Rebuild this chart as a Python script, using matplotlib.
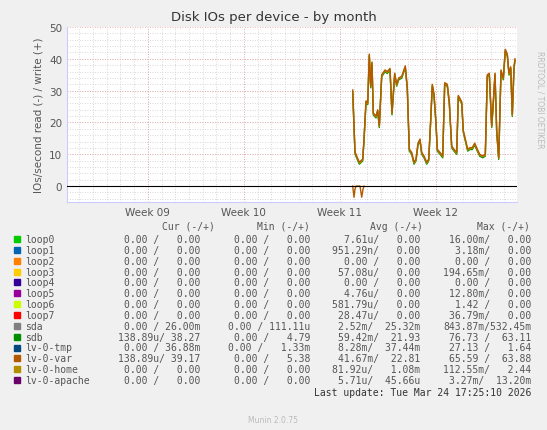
import matplotlib
matplotlib.use("Agg")
import matplotlib.pyplot as plt
import numpy as np

# x in pixels of the original chart converted to days; week ticks
week_labels = ["Week 09", "Week 10", "Week 11", "Week 12"]
week_pos = [5.9, 12.9, 19.9, 26.9]

px = [352.7, 355, 359.3, 362.7, 364, 366, 367.7, 369.3, 370.7, 372, 373.3, 376, 377.7, 379.3, 381.7,
      385, 387.3, 390, 392, 394.7, 396.7, 398.7, 401.7, 405.3, 407.3, 409.3, 411.7, 414, 416, 418,
      420, 421.7, 424, 426.7, 428.7, 430.7, 432.3, 434, 436, 437.3, 440, 442.7, 444.7, 447.3, 449.3,
      451.7, 454, 456.7, 458.3, 461.7, 463.3, 467.7, 470, 472.3, 474.7, 477.3, 479.7, 482.7, 485.3,
      487.3, 489.3, 491.7, 493.3, 495, 496.7, 498.7, 501, 503.3, 505.3, 507.3, 509, 510.7, 512.3, 514, 515]
write_var = [30.2, 10.7, 7.5, 8.5, 14.8, 26.8, 26.2, 41.5, 31.5, 39, 23, 22, 24, 19, 35,
             36.5, 36, 37, 23, 35.5, 32, 34, 34.5, 37.8, 31, 11.6, 10.6, 7.5, 8.5, 13.5,
             14.8, 10.6, 9.5, 7.5, 8.5, 21, 32, 29, 20, 11.6, 10.6, 9.5, 32.5, 32, 26.5,
             12.6, 11.6, 10.6, 28.5, 26.5, 17.5, 11.6, 12.1, 12.1, 13.5, 11.6, 10, 9.5, 10,
             35, 35.5, 19, 26.5, 35.5, 17.5, 9, 36.5, 34, 43, 41.5, 35.5, 37.5, 22.5, 37.5, 40]
# read side: only the short dips below zero
read_px = [352.7, 354, 355, 356, 360, 361.7, 363, 364]
read_var = [0, -3.5, -1, 0, 0, -3.5, -1, 0]

days = [(p - 67) / (96 / 7) for p in px]
read_days = [(p - 67) / (96 / 7) for p in read_px]
write_sdb = [v - 0.6 for v in write_var]
write_home = [v - 0.3 for v in write_var]

names = ["loop0", "loop1", "loop2", "loop3", "loop4", "loop5", "loop6", "loop7",
         "sda", "sdb", "lv-0-tmp", "lv-0-var", "lv-0-home", "lv-0-apache"]
colors = ["#00cc00", "#0066b3", "#ff8000", "#ffcc00", "#330099", "#990099", "#ccff00",
          "#ff0000", "#808080", "#008f00", "#00487d", "#b35a00", "#b38f00", "#6b006b"]
cur = ["0.00 /   0.00"] * 8 + ["0.00 / 26.00m", "138.89u/ 38.27", "0.00 / 36.88m",
                                 "138.89u/ 39.17", "0.00 /   0.00", "0.00 /   0.00"]
mins = ["0.00 /   0.00"] * 8 + ["0.00 / 111.11u", "0.00 /   4.79", "0.00 /   1.33m",
                                 "0.00 /   5.38", "0.00 /   0.00", "0.00 /   0.00"]
avgs = ["7.61u/   0.00", "951.29n/   0.00", "0.00 /   0.00", "57.08u/   0.00",
        "0.00 /   0.00", "4.76u/   0.00", "581.79u/   0.00", "28.47u/   0.00",
        "2.52m/  25.32m", "59.42m/  21.93", "8.28m/  37.44m", "41.67m/  22.81",
        "81.92u/   1.08m", "5.71u/  45.66u"]
maxs = ["16.00m/   0.00", "3.18m/   0.00", "0.00 /   0.00", "194.65m/   0.00",
        "0.00 /   0.00", "12.80m/   0.00", "1.42 /   0.00", "36.79m/   0.00",
        "843.87m/532.45m", "76.73 /  63.11", "27.13 /   1.64", "65.59 /  63.88",
        "112.55m/   2.44", "3.27m/  13.20m"]

W, H = 547, 431
fig = plt.figure(figsize=(W / 100, H / 100), dpi=100, facecolor="#f0f0f0")
ax = fig.add_axes([67 / W, 1 - 203 / H, 450 / W, 175 / H])
ax.set_facecolor("white")
ax.set_xlim(0, 450 / (96 / 7))
ax.set_ylim(-5, 50)

for d in np.arange(week_pos[0] - 7, 33, 1):
    ax.axvline(d, color="#cccccc", lw=0.6, ls=(0, (1, 2)), zorder=0)
for y in np.arange(-4, 50, 2):
    ax.axhline(y, color="#cccccc", lw=0.6, ls=(0, (1, 2)), zorder=0)
for d in week_pos:
    ax.axvline(d, color="#e8a0a0", lw=0.6, ls=(0, (1, 2)), zorder=0)
for y in range(0, 51, 10):
    ax.axhline(y, color="#e8a0a0", lw=0.6, ls=(0, (1, 2)), zorder=0)

ax.plot(read_days, read_var, color=colors[11], lw=1)
ax.axhline(0, color="black", lw=0.8, zorder=3)
ax.plot(days, write_sdb, color=colors[9], lw=1)
ax.plot(days, write_home, color=colors[12], lw=1)
ax.plot(days, write_var, color=colors[11], lw=1)

ax.set_xticks(week_pos)
ax.set_xticklabels(week_labels)
ax.set_yticks(range(0, 51, 10))
ax.tick_params(labelsize=7.5, colors="#555555", length=0)
for s in ax.spines.values():
    s.set_visible(False)
ax.spines["bottom"].set_visible(True)
ax.spines["bottom"].set_color("#ccccff")
ax.spines["left"].set_visible(True)
ax.spines["left"].set_color("#ccccff")
ax.set_ylabel("IOs/second read (-) / write (+)", fontsize=7.5, color="#555555")

fig.text(0.5, 1 - 18 / H, "Disk IOs per device - by month", ha="center", va="center",
         fontsize=9.5, color="#333333")
fig.text(540 / W, 1 - 100 / H, "RRDTOOL / TOBI OETIKER", rotation=270, ha="center",
         va="center", fontsize=5.5, color="#bbbbbb")

mono = dict(family="DejaVu Sans Mono", fontsize=7, color="#555555", va="center")
hy = 227
for x, t in [(188, "Cur (-/+)"), (283, "Min (-/+)"), (396, "Avg (-/+)"), (503, "Max (-/+)")]:
    fig.text(x / W, 1 - hy / H, t, ha="center", **mono)
for i, n in enumerate(names):
    y = 1 - (240 + i * 10.85) / H
    fig.patches.append(plt.Rectangle((14 / W, y - 3 / H), 6 / W, 6 / H, color=colors[i],
                                     transform=fig.transFigure, figure=fig))
    fig.text(25 / W, y, n, ha="left", **mono)
    fig.text(200 / W, y, cur[i], ha="right", **mono)
    fig.text(310 / W, y, mins[i], ha="right", **mono)
    fig.text(420 / W, y, avgs[i], ha="right", **mono)
    fig.text(531 / W, y, maxs[i], ha="right", **mono)
fig.text(531 / W, 1 - 393 / H, "Last update: Tue Mar 24 17:25:10 2026", ha="right",
         **{**mono, "color": "#333333"})
fig.text(0.5, 1 - 421 / H, "Munin 2.0.75", ha="center", va="center", fontsize=5.5,
         color="#bbbbbb")

fig.savefig("out.png", dpi=100, facecolor=fig.get_facecolor())
